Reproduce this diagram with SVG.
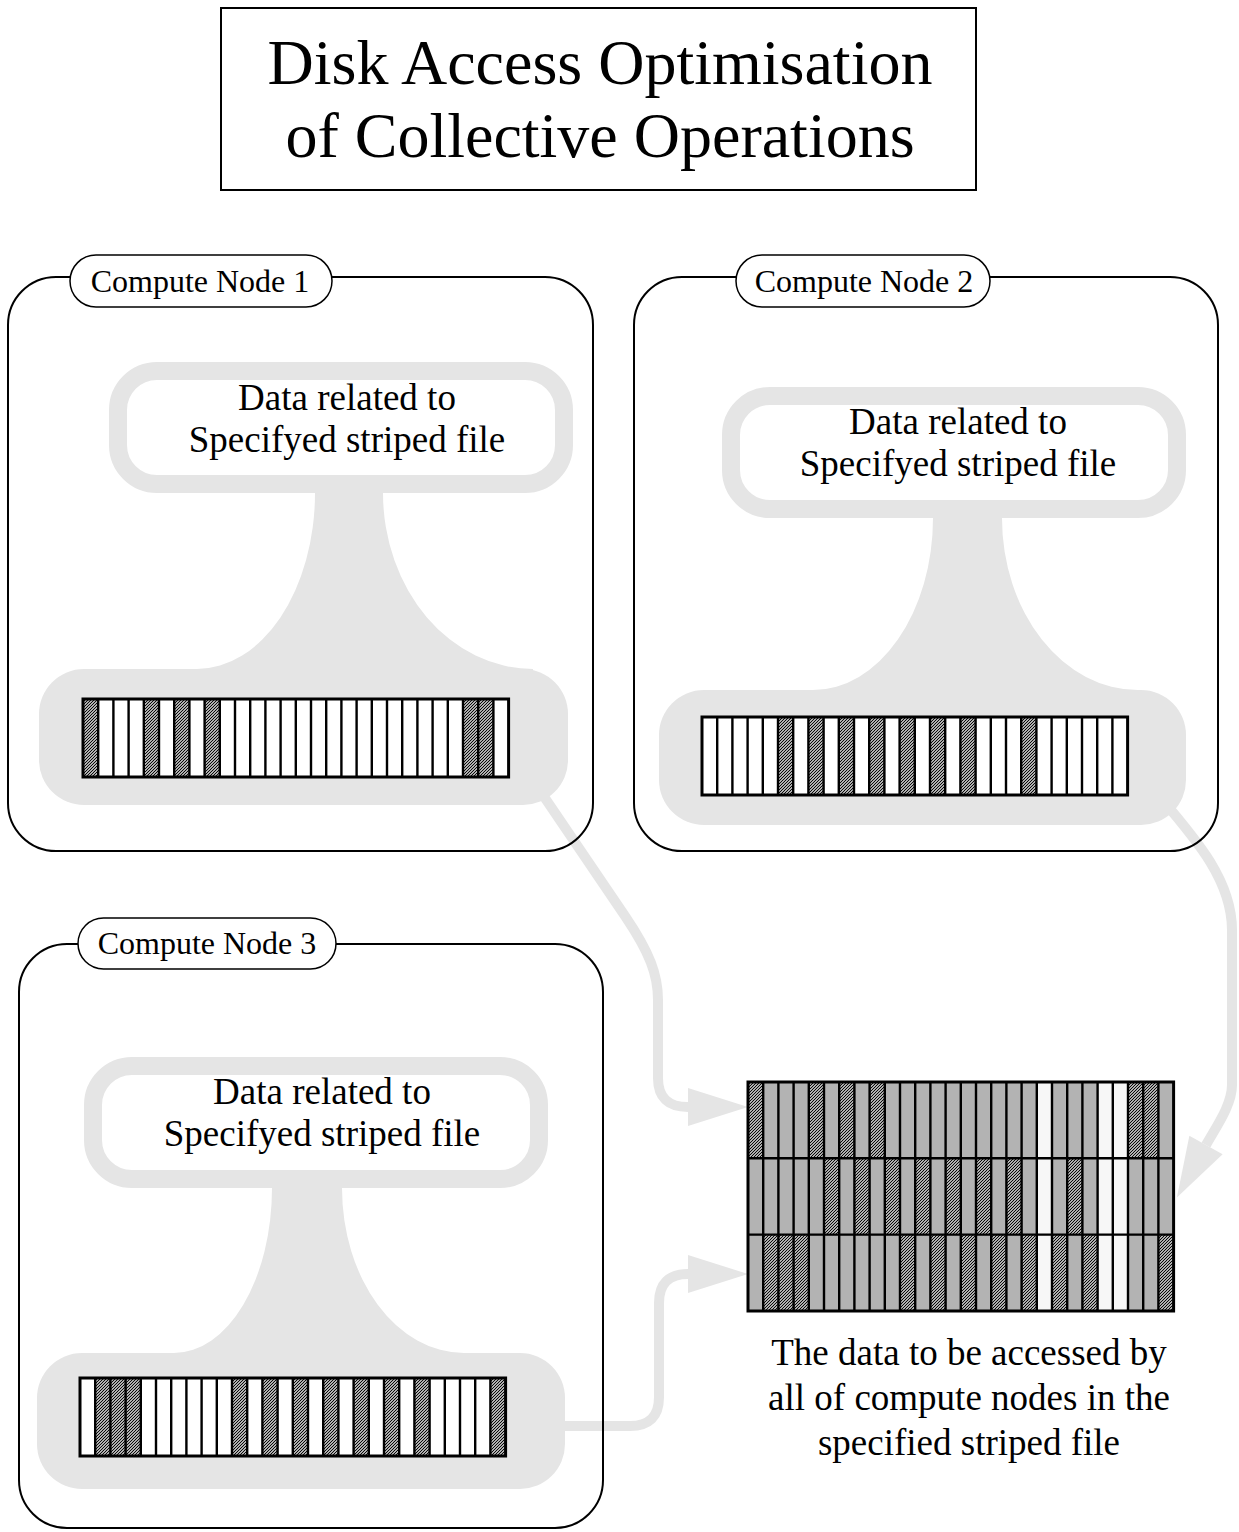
<svg xmlns="http://www.w3.org/2000/svg" xmlns:xlink="http://www.w3.org/1999/xlink" width="1239" height="1532" viewBox="0 0 1239 1532">
  <style>
    .t { font-family: "Liberation Serif", "Times New Roman", serif; fill: #000; text-anchor: middle; }
    .box { fill: none; stroke: #000; stroke-width: 2; }
    .pill { fill: #fff; stroke: #000; stroke-width: 1.5; }
    .ring { fill: none; stroke: #e5e5e5; stroke-width: 18; }
    .blob { fill: #e5e5e5; }
    .conn { fill: none; stroke: #e5e5e5; stroke-width: 10; }
    .cw { fill: #fff; }
    .cg { fill: #b3b3b3; }
    .ce { fill: #f7f7f7; }
    .ch { fill: url(#hatch); }
    .div { fill: none; stroke: #000; stroke-width: 2.4; }
    .frame { fill: none; stroke: #000; stroke-width: 3; }
  </style>
  <defs>
    <pattern id="hatch" patternUnits="userSpaceOnUse" width="3" height="3">
      <rect width="3" height="3" fill="#fff"/>
      <path d="M-1,1 l2,-2 M0,3 l3,-3 M2,4 l2,-2" stroke="#000" stroke-width="1.2"/>
    </pattern>
    <marker id="head" markerUnits="userSpaceOnUse" markerWidth="70" markerHeight="50" refX="0" refY="0" orient="auto" overflow="visible">
      <path d="M0,-19 L60,0 L0,19 Z" fill="#e5e5e5"/>
    </marker>
    <!-- cell dividers of a 28-cell stripe strip, 15.2 px pitch -->
    <path id="div78" class="div" d="M15.2,0V78M30.4,0V78M45.6,0V78M60.8,0V78M76,0V78M91.2,0V78M106.4,0V78M121.6,0V78M136.8,0V78M152,0V78M167.2,0V78M182.4,0V78M197.6,0V78M212.8,0V78M228,0V78M243.2,0V78M258.4,0V78M273.6,0V78M288.8,0V78M304,0V78M319.2,0V78M334.4,0V78M349.6,0V78M364.8,0V78M380,0V78M395.2,0V78M410.4,0V78"/>
  </defs>

  <rect width="1239" height="1532" fill="#fff"/>

  <!-- title -->
  <g id="title">
    <rect x="221" y="8" width="755" height="182" fill="#fff" stroke="#000" stroke-width="2"/>
    <text class="t" x="600" y="84" font-size="64">Disk Access Optimisation</text>
    <text class="t" x="600" y="157" font-size="64">of Collective Operations</text>
  </g>

  <!-- connectors -->
  <g id="connectors">
    <path class="conn" d="M530,776 L625,916 C650,953 658,975 658,1000 L658,1078 Q658,1107 688,1107" marker-end="url(#head)"/>
    <path class="conn" d="M1160,797 C1195,838 1232,880 1232,930 L1232,1085 C1232,1105 1216,1127 1206,1145" marker-end="url(#head)"/>
    <path class="conn" d="M555,1426 L630,1426 Q659,1426 659,1397 L659,1303 Q659,1274 688,1274" marker-end="url(#head)"/>
  </g>

  <!-- compute node 1 -->
  <g id="node1">
    <rect class="ring" x="118" y="371" width="446" height="113" rx="39"/>
    <path class="blob" d="M315,484 L315,493 A118,176 0 0 1 197,669 L197,675 L533,675 L533,669 A150,176 0 0 1 383,493 L383,484 Z"/>
    <rect class="blob" x="39" y="669" width="529" height="136" rx="45"/>
    <text class="t" x="347" y="410" font-size="37">Data related to</text>
    <text class="t" x="347" y="452" font-size="37">Specifyed striped file</text>
    <g transform="translate(83,699)">
      <rect class="cw" width="425.6" height="78"/>
      <rect class="ch" x="0" width="15.2" height="78"/>
      <rect class="ch" x="60.8" width="15.2" height="78"/>
      <rect class="ch" x="91.2" width="15.2" height="78"/>
      <rect class="ch" x="121.6" width="15.2" height="78"/>
      <rect class="ch" x="380" width="30.4" height="78"/>
      <use xlink:href="#div78"/>
      <rect class="frame" width="425.6" height="78"/>
    </g>
    <rect class="box" x="8" y="277" width="585" height="574" rx="48"/>
    <rect class="pill" x="70" y="255" width="262" height="52" rx="26"/>
    <text class="t" x="200" y="292" font-size="32">Compute Node 1</text>
  </g>

  <!-- compute node 2 -->
  <g id="node2">
    <rect class="ring" x="731" y="396" width="446" height="113" rx="39"/>
    <path class="blob" d="M933,509 L933,518 A120,172 0 0 1 813,690 L813,696 L1138,696 L1138,690 A136,172 0 0 1 1002,518 L1002,509 Z"/>
    <rect class="blob" x="659" y="690" width="527" height="135" rx="45"/>
    <text class="t" x="958" y="434" font-size="37">Data related to</text>
    <text class="t" x="958" y="476" font-size="37">Specifyed striped file</text>
    <g transform="translate(702,717)">
      <rect class="cw" width="425.6" height="78"/>
      <rect class="ch" x="76" width="15.2" height="78"/>
      <rect class="ch" x="106.4" width="15.2" height="78"/>
      <rect class="ch" x="136.8" width="15.2" height="78"/>
      <rect class="ch" x="167.2" width="15.2" height="78"/>
      <rect class="ch" x="197.6" width="15.2" height="78"/>
      <rect class="ch" x="228" width="15.2" height="78"/>
      <rect class="ch" x="258.4" width="15.2" height="78"/>
      <rect class="ch" x="319.2" width="15.2" height="78"/>
      <use xlink:href="#div78"/>
      <rect class="frame" width="425.6" height="78"/>
    </g>
    <rect class="box" x="634" y="277" width="584" height="574" rx="48"/>
    <rect class="pill" x="736" y="255" width="254" height="52" rx="26"/>
    <text class="t" x="864" y="292" font-size="32">Compute Node 2</text>
  </g>

  <!-- compute node 3 -->
  <g id="node3">
    <rect class="ring" x="93" y="1066" width="446" height="113" rx="39"/>
    <path class="blob" d="M272,1179 L272,1188 A98,165 0 0 1 174,1353 L174,1359 L464,1359 L464,1353 A122,165 0 0 1 342,1188 L342,1179 Z"/>
    <rect class="blob" x="37" y="1353" width="528" height="136" rx="45"/>
    <text class="t" x="322" y="1104" font-size="37">Data related to</text>
    <text class="t" x="322" y="1146" font-size="37">Specifyed striped file</text>
    <g transform="translate(80,1378)">
      <rect class="cw" width="425.6" height="78"/>
      <rect class="ch" x="15.2" width="45.6" height="78"/>
      <rect class="ch" x="152" width="15.2" height="78"/>
      <rect class="ch" x="182.4" width="15.2" height="78"/>
      <rect class="ch" x="212.8" width="15.2" height="78"/>
      <rect class="ch" x="243.2" width="15.2" height="78"/>
      <rect class="ch" x="273.6" width="15.2" height="78"/>
      <rect class="ch" x="304" width="15.2" height="78"/>
      <rect class="ch" x="334.4" width="15.2" height="78"/>
      <rect class="ch" x="410.4" width="15.2" height="78"/>
      <use xlink:href="#div78"/>
      <rect class="frame" width="425.6" height="78"/>
    </g>
    <rect class="box" x="19" y="944" width="584" height="584" rx="48"/>
    <rect class="pill" x="78" y="918" width="258" height="51" rx="25.5"/>
    <text class="t" x="207" y="954" font-size="32">Compute Node 3</text>
  </g>

  <!-- combined striped file -->
  <g id="striped-file">
    <g transform="translate(748,1082)">
      <rect class="cg" width="425.6" height="229"/>
      <rect class="ce" x="288.8" width="15.2" height="229"/>
      <rect class="ce" x="349.6" width="30.4" height="229"/>
      <!-- row 1 -->
      <rect class="ch" x="0" y="0" width="15.2" height="76.3"/>
      <rect class="ch" x="60.8" y="0" width="15.2" height="76.3"/>
      <rect class="ch" x="91.2" y="0" width="15.2" height="76.3"/>
      <rect class="ch" x="121.6" y="0" width="15.2" height="76.3"/>
      <rect class="ch" x="380" y="0" width="30.4" height="76.3"/>
      <!-- row 2 -->
      <rect class="ch" x="76" y="76.3" width="15.2" height="76.3"/>
      <rect class="ch" x="106.4" y="76.3" width="15.2" height="76.3"/>
      <rect class="ch" x="136.8" y="76.3" width="15.2" height="76.3"/>
      <rect class="ch" x="167.2" y="76.3" width="15.2" height="76.3"/>
      <rect class="ch" x="197.6" y="76.3" width="15.2" height="76.3"/>
      <rect class="ch" x="228" y="76.3" width="15.2" height="76.3"/>
      <rect class="ch" x="258.4" y="76.3" width="15.2" height="76.3"/>
      <rect class="ch" x="319.2" y="76.3" width="15.2" height="76.3"/>
      <!-- row 3 -->
      <rect class="ch" x="15.2" y="152.6" width="45.6" height="76.4"/>
      <rect class="ch" x="152" y="152.6" width="15.2" height="76.4"/>
      <rect class="ch" x="182.4" y="152.6" width="15.2" height="76.4"/>
      <rect class="ch" x="212.8" y="152.6" width="15.2" height="76.4"/>
      <rect class="ch" x="243.2" y="152.6" width="15.2" height="76.4"/>
      <rect class="ch" x="273.6" y="152.6" width="15.2" height="76.4"/>
      <rect class="ch" x="304" y="152.6" width="15.2" height="76.4"/>
      <rect class="ch" x="334.4" y="152.6" width="15.2" height="76.4"/>
      <rect class="ch" x="410.4" y="152.6" width="15.2" height="76.4"/>
      <use xlink:href="#div78" transform="scale(1,2.936)"/>
      <path class="div" d="M0,76.3H425.6M0,152.6H425.6"/>
      <rect class="frame" width="425.6" height="229"/>
    </g>
    <text class="t" x="969" y="1365" font-size="37">The data to be accessed by</text>
    <text class="t" x="969" y="1410" font-size="37">all of compute nodes in the</text>
    <text class="t" x="969" y="1455" font-size="37">specified striped file</text>
  </g>
</svg>
